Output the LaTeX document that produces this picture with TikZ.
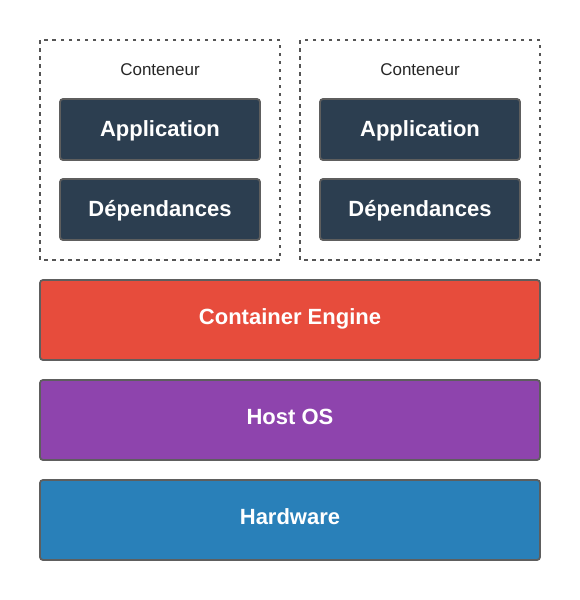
\documentclass[tikz,border=0pt]{standalone}
\usepackage{fontspec}
\setmainfont{Liberation Sans}
\definecolor{darkbox}{HTML}{2C3E50}
\definecolor{redbox}{HTML}{E74C3C}
\definecolor{purplebox}{HTML}{8E44AD}
\definecolor{bluebox}{HTML}{2980B9}
\definecolor{edgegray}{HTML}{5E5E5E}
\definecolor{dashgray}{HTML}{555555}
\begin{document}
\begin{tikzpicture}[x=1pt,y=-1pt,
  cont/.style={draw=dashgray,line width=1.3pt,dash pattern=on 3.5pt off 4.5pt},
  inner/.style={draw=edgegray,fill=darkbox,line width=1.8pt,rounded corners=3pt},
  layer/.style={draw=edgegray,line width=1.8pt,rounded corners=3pt},
  bold/.style={anchor=base,inner sep=0pt,text=white,font=\fontsize{22}{26}\selectfont\bfseries},
  small/.style={anchor=base,inner sep=0pt,text=black!85,font=\fontsize{17}{20}\selectfont}]
\useasboundingbox (0,0) rectangle (580,600);
% containers
\draw[cont] (40,40) rectangle (280,260);
\draw[cont] (300,40) rectangle (540,260);
\node[small] (c1) at (160,75.5) {Conteneur};
\node[small] (c2) at (420,75.5) {Conteneur};
\draw[inner] (60,99) rectangle (260,160);
\draw[inner] (60,179) rectangle (260,240);
\draw[inner] (320,99) rectangle (520,160);
\draw[inner] (320,179) rectangle (520,240);
\node[bold] (a1) at (160,136) {Application};
\node[bold] (d1) at (160,216) {Dépendances};
\node[bold] (a2) at (420,136) {Application};
\node[bold] (d2) at (420,216) {Dépendances};
% layers
\draw[layer,fill=redbox] (40,280) rectangle (540,360);
\draw[layer,fill=purplebox] (40,380) rectangle (540,460);
\draw[layer,fill=bluebox] (40,480) rectangle (540,560);
\node[bold] (ce) at (290,324) {Container Engine};
\node[bold] (os) at (290,424) {Host OS};
\node[bold] (hw) at (290,524) {Hardware};
\end{tikzpicture}
\end{document}
